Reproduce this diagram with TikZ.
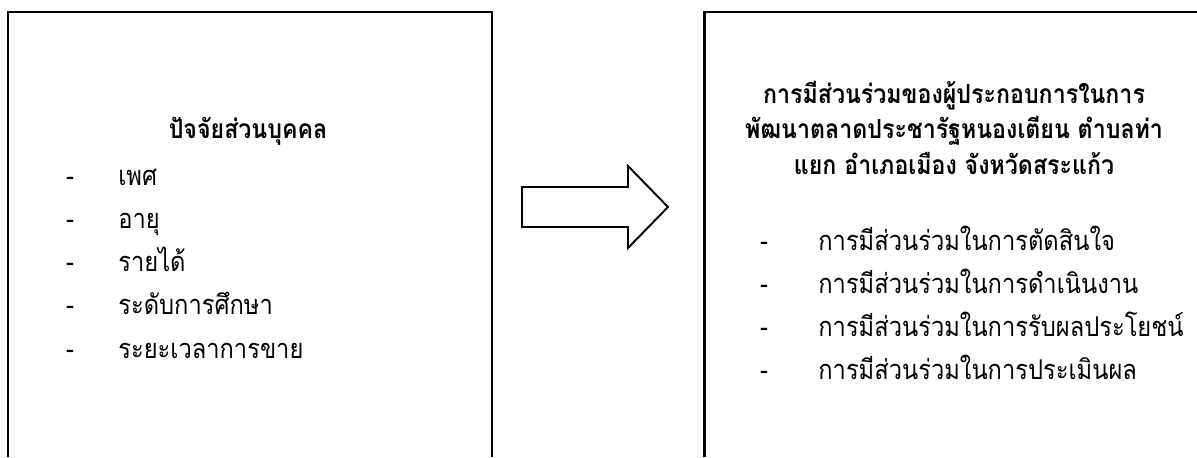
\documentclass[tikz,border=0pt]{standalone}
\usepackage{fontspec}
\newfontfamily\thaifont[Script=Thai,FakeStretch=0.87]{Loma}
\newfontfamily\thaihead[Script=Thai,FakeStretch=0.88]{Loma}
\tikzset{
  frame/.style={line width=1.7pt},
  head/.style={font=\thaihead\bfseries\fontsize{15}{18}\selectfont, anchor=base, inner sep=0pt},
  item/.style={font=\thaifont\fontsize{15.5}{18}\selectfont, anchor=base west, inner sep=0pt},
  hyph/.style={font=\thaifont\fontsize{15.5}{18}\selectfont, anchor=base, inner sep=0pt}
}
\begin{document}
\begin{tikzpicture}[x=0.02cm,y=-0.02cm]
  \useasboundingbox (0,0) rectangle (1197,457);
  % left box and right box, open at the bottom
  \draw[frame] (8,457) -- (8,12) -- (492,12) -- (492,457);
  \draw[frame] (704,457) -- (704,12) -- (1197,12);
  % block arrow
  \draw[line width=1.1pt] (522,187) -- (628,187) -- (628,166) -- (668,207)
    -- (628,248) -- (628,227) -- (522,227) -- cycle;
  % left side
  \node[head] (lefthead) at (248,138) {ปัจจัยส่วนบุคคล};
  \foreach \y/\txt [count=\i] in {185/เพศ, 228/อายุ, 271/รายได้, 314/ระดับการศึกษา, 358/ระยะเวลาการขาย} {
    \node[hyph] (ldash\i) at (70,\y) {-};
    \node[item] (litem\i) at (118,\y) {\txt};
  }
  % right side
  \node[head] (righthead1) at (954,103) {การมีส่วนร่วมของผู้ประกอบการในการ};
  \node[head] (righthead2) at (954,138) {พัฒนาตลาดประชารัฐหนองเตียน ตำบลท่า};
  \node[head] (righthead3) at (954,174) {แยก อำเภอเมือง จังหวัดสระแก้ว};
  \foreach \y/\txt [count=\i] in {250/การมีส่วนร่วมในการตัดสินใจ, 293/การมีส่วนร่วมในการดำเนินงาน, 336/การมีส่วนร่วมในการรับผลประโยชน์, 379/การมีส่วนร่วมในการประเมินผล} {
    \node[hyph] (rdash\i) at (764,\y) {-};
    \node[item] (ritem\i) at (818,\y) {\txt};
  }
\end{tikzpicture}
\end{document}
